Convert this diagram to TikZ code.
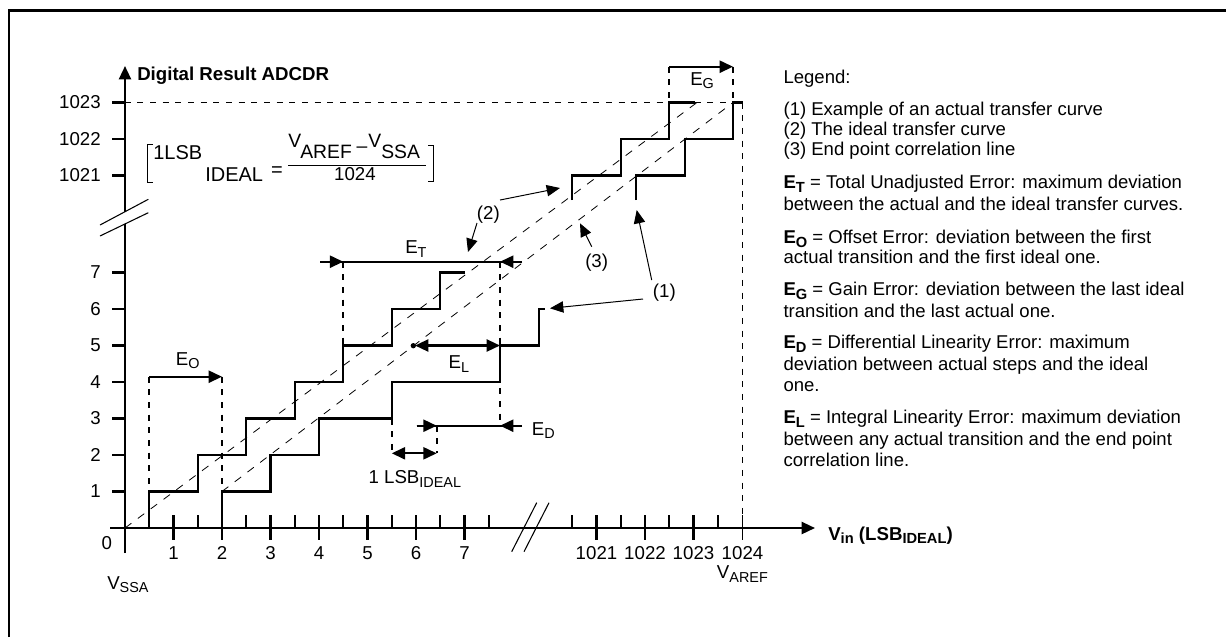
\documentclass[tikz,border=0pt]{standalone}
\usepackage{fontspec}
\setmainfont{Liberation Sans}
\usetikzlibrary{arrows.meta}
\newcommand{\lsub}[1]{\raisebox{-0.4ex}{\fontsize{10.8}{10.8}\selectfont #1}}
\newcommand{\bsub}[1]{\raisebox{-0.4ex}{\fontsize{11}{11}\selectfont\bfseries #1}}
\begin{document}
\begin{tikzpicture}[x=0.75pt,y=-0.75pt,
  stair/.style={line width=1.7pt},
  axisline/.style={line width=1.7pt},
  vdash/.style={line width=1.4pt, dash pattern=on 4.5pt off 5pt},
  diag/.style={line width=0.6pt, dash pattern=on 6pt off 6pt},
  tri/.style={-{Triangle[length=10pt,width=9pt]}},
  dtri/.style={{Triangle[length=10pt,width=9pt]}-{Triangle[length=10pt,width=9pt]}},
  thinarrow/.style={line width=0.75pt, -{Triangle[length=10pt,width=8.5pt]}},
  slash/.style={line width=0.8pt},
  lbl/.style={font=\fontsize{14}{16}\selectfont, inner sep=0pt},
  leg/.style={font=\fontsize{13.9}{16}\selectfont, inner sep=0pt, anchor=base west},
  fml/.style={font=\fontsize{15}{18}\selectfont, inner sep=0pt, anchor=base west},
  fmls/.style={font=\fontsize{14.5}{17}\selectfont, inner sep=0pt, anchor=base west}]
\useasboundingbox (0,0) rectangle (1226,637);
% frame
\draw[line width=2pt] (9,637) -- (9,10.7) -- (1226,10.7);

% axes
\draw[axisline,tri] (125,211.7) -- (125,66);
\draw[axisline] (125,553) -- (125,223.5);
\draw[slash] (100,225) -- (148.3,199.3);
\draw[slash] (100,236) -- (148.3,212.7);
\draw[axisline,tri] (110,528) -- (815,528);
\draw[slash] (511.7,551.7) -- (536.7,502.7);
\draw[slash] (524,551.7) -- (549,502.7);

% y ticks and labels
\foreach \n in {1,...,7}{
  \draw[axisline] (112,{528-36.5*\n}) -- (125,{528-36.5*\n});
  \node[lbl,anchor=east] (yl\n) at (101,{528-36.5*\n}) {\n};
}
\foreach \v/\y in {1021/175.5,1022/139,1023/102.5}{
  \draw[axisline] (112,\y) -- (125,\y);
  \node[lbl,anchor=east] (yl\v) at (101,\y) {\v};
}
\node[lbl] (y0) at (106.7,543.3) {0};
\node[lbl,anchor=base west,font=\fontsize{14}{16}\selectfont\bfseries] (ytitle) at (137,80) {Digital Result ADCDR};

% x ticks and labels
\foreach \n in {1,...,7}{
  \draw[axisline] ({125+48.5*\n},515) -- ({125+48.5*\n},540);
  \node[lbl] (xl\n) at ({125+48.5*\n},553) {\n};
}
\foreach \n in {0,...,7}{
  \draw[axisline] ({125+48.5*(\n+0.5)},515) -- ({125+48.5*(\n+0.5)},528);
}
\foreach \x in {572.25,620.75,669.25,717.75}{
  \draw[axisline] (\x,515) -- (\x,528);
}
\foreach \v/\x in {1021/596.5,1022/645,1023/693.5}{
  \draw[axisline] (\x,515) -- (\x,540);
  \node[lbl] (xl\v) at (\x,553) {\v};
}
\draw[line width=0.8pt] (742.5,515) -- (742.5,540);
\node[lbl] (xl1024) at (742.5,553) {1024};
\node[lbl,anchor=base west] (vssa) at (107,589) {V\lsub{SSA}};
\node[lbl,anchor=base west] (varef) at (716.7,578.3) {V\lsub{AREF}};
\node[lbl,anchor=base west,font=\fontsize{14}{16}\selectfont\bfseries] (xtitle) at (828,540) {V\bsub{in} (LSB\bsub{IDEAL})};

% reference dashed lines
\draw[vdash] (112,102.5) -- (742.5,102.5);
\draw[vdash] (742.5,102.5) -- (742.5,528);

% diagonal lines
\draw[diag] (125,528) -- (697,102.5);
\draw[diag] (222,491.5) -- (733,102.5);

% ideal staircase (lower part)
\draw[stair] (149.25,528) -- (149.25,491.5) -- (197.75,491.5) -- (197.75,455) -- (246.25,455) -- (246.25,418.5) -- (294.75,418.5) -- (294.75,382) -- (343.25,382) -- (343.25,345.5) -- (391.75,345.5) -- (391.75,309) -- (440.25,309) -- (440.25,272.5) -- (464.5,272.5);
% actual staircase (lower part)
\draw[stair] (222,528) -- (222,491.5) -- (270.5,491.5) -- (270.5,455) -- (319,455) -- (319,418.5) -- (391.75,418.5) -- (391.75,382) -- (500,382) -- (500,345.5) -- (539.3,345.5) -- (539.3,309) -- (545,309);
% ideal staircase (upper part)
\draw[stair] (572.25,200) -- (572.25,175.5) -- (620.75,175.5) -- (620.75,139) -- (669.25,139) -- (669.25,102.5) -- (695,102.5);
% actual staircase (upper part)
\draw[stair] (636,200) -- (636,175.5) -- (685,175.5) -- (685,139) -- (733,139) -- (733,102.5) -- (742.5,102.5);

% E_O
\draw[vdash] (149.25,376.7) -- (149.25,491.5);
\draw[vdash] (222,376.7) -- (222,491.5);
\draw[stair,tri] (149.25,376.7) -- (222,376.7);
\node[lbl,anchor=base west] (eo) at (175.7,365) {E\lsub{O}};

% E_T
\draw[vdash] (343.25,261.7) -- (343.25,345.5);
\draw[vdash] (500,261.7) -- (500,425.7);
\draw[stair] (320,261.7) -- (522,261.7);
\draw[stair,tri] (320,261.7) -- (343.25,261.7);
\draw[stair,tri] (522,261.7) -- (500,261.7);
\node[lbl,anchor=base west] (et) at (405,253.3) {E\lsub{T}};

% E_L
\fill (413.3,345.7) circle (2pt);
\draw[stair,dtri] (415,345.5) -- (500,345.5);
\node[lbl,anchor=base west] (el) at (448.3,368.3) {E\lsub{L}};

% E_D
\draw[stair] (416.7,425.7) -- (522,425.7);
\draw[stair,tri] (416.7,425.7) -- (436.7,425.7);
\draw[stair,tri] (522,425.7) -- (500,425.7);
\node[lbl,anchor=base west] (ed) at (531.7,435) {E\lsub{D}};

% 1 LSB
\draw[vdash] (391.75,418.5) -- (391.75,453.3);
\draw[vdash] (436.7,425.7) -- (436.7,453.3);
\draw[stair,dtri] (391.75,453.3) -- (436.7,453.3);
\node[lbl,anchor=base west] (lsb) at (368.3,483.3) {1 LSB\lsub{IDEAL}};

% E_G
\draw[vdash] (669.25,66.7) -- (669.25,102.5);
\draw[vdash] (733,66.7) -- (733,102.5);
\draw[stair,tri] (669.25,66.7) -- (733,66.7);
\node[lbl,anchor=base west] (eg) at (690,85) {E\lsub{G}};

% curve labels
\node[lbl,anchor=base west] (c1) at (652.7,297) {(1)};
\node[lbl,anchor=base west] (c2) at (476.7,219.5) {(2)};
\node[lbl,anchor=base west] (c3) at (585,267.5) {(3)};
\draw[thinarrow] (651.7,280) -- (636.7,210);
\draw[thinarrow] (643,299) -- (550,308.3);
\draw[thinarrow] (500,200) -- (560,188);
\draw[thinarrow] (477,223) -- (468,252);
\draw[thinarrow] (591.7,246.7) -- (580,223.3);

% formula
\draw[line width=0.7pt] (153,144) -- (147.3,144) -- (147.3,182.3) -- (153,182.3);
\draw[line width=0.7pt] (428,145) -- (433,145) -- (433,181.7) -- (428,181.7);
\node[fml] (f1) at (153,159.3) {1LSB};
\node[fml] (f2) at (205,181.7) {IDEAL};
\node[fml,anchor=center] (f3) at (277,172) {=};
\node[fmls] (f4) at (288,147) {V};
\node[fmls] (f5) at (300,158) {AREF};
\node[fmls,anchor=center] (f6) at (362,150) {–};
\node[fmls] (f7) at (368,147) {V};
\node[fmls] (f8) at (381,158) {SSA};
\draw[line width=0.8pt] (288,165.5) -- (426,165.5);
\node[lbl] (f9) at (355,174.5) {1024};

% legend
\node[leg] (g1) at (783.3,83.5) {Legend:};
\node[leg] (g2) at (783.3,115.5) {(1) Example of an actual transfer curve};
\node[leg] (g3) at (783.3,135.5) {(2) The ideal transfer curve};
\node[leg] (g4) at (783.3,155.5) {(3) End point correlation line};
\node[leg] (g5) at (783.3,188.8) {\textbf{E\bsub{T}} = Total Unadjusted Error: maximum deviation};
\node[leg] (g6) at (783.3,210.5) {between the actual and the ideal transfer curves.};
\node[leg] (g7) at (783.3,243.8) {\textbf{E\bsub{O}} = Offset Error: deviation between the first};
\node[leg] (g8) at (783.3,263.8) {actual transition and the first ideal one.};
\node[leg] (g9) at (783.3,295.5) {\textbf{E\bsub{G}} = Gain Error: deviation between the last ideal};
\node[leg] (g10) at (783.3,317.2) {transition and the last actual one.};
\node[leg] (g11) at (783.3,348.8) {\textbf{E\bsub{D}} = Differential Linearity Error: maximum};
\node[leg] (g12) at (783.3,370.5) {deviation between actual steps and the ideal};
\node[leg] (g13) at (783.3,391.5) {one.};
\node[leg] (g14) at (783.3,423.8) {\textbf{E\bsub{L}} = Integral Linearity Error: maximum deviation};
\node[leg] (g15) at (783.3,445.5) {between any actual transition and the end point};
\node[leg] (g16) at (783.3,466.5) {correlation line.};
\end{tikzpicture}
\end{document}
